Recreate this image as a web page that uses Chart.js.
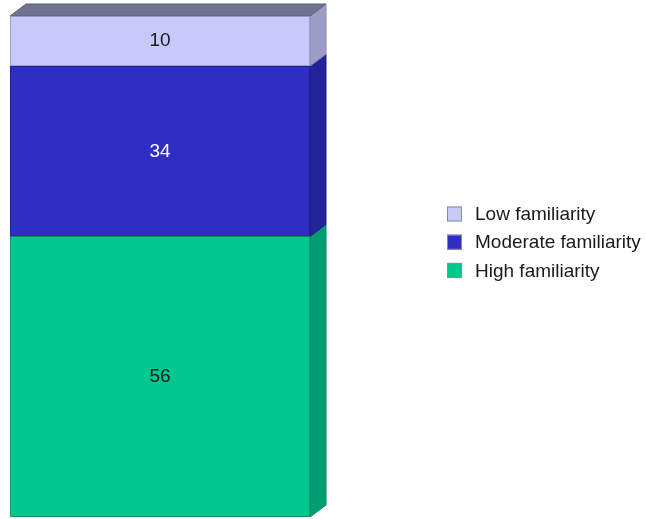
<!DOCTYPE html>
<html>
<head>
<meta charset="utf-8">
<script src="https://cdn.jsdelivr.net/npm/chart.js@4/dist/chart.umd.min.js"></script>
<style>
  html, body { margin: 0; padding: 0; background: #ffffff; }
  #wrap { width: 646px; height: 519px; }
</style>
</head>
<body>
<div id="wrap"><canvas id="chart" width="646" height="519"></canvas></div>
<script>
// Single stacked column: share of respondents by level of familiarity
const categories = ['Familiarity'];
const seriesNames = ['Low familiarity', 'Moderate familiarity', 'High familiarity'];
const seriesValues = [10, 34, 56];

// front / side face colours and label colours, same order as seriesNames
const frontColors = ['#c8c8fa', '#2e2ec4', '#00c88f'];
const sideColors  = ['#9c9cc6', '#23239a', '#009e70'];
const edgeColors  = ['#8a8ab0', '#1c1c86', '#008a62'];
const labelColors = ['#1a1a1a', '#ffffff', '#1a1a1a'];
const topColor = '#6e7490';

const DEPTH_X = 16, DEPTH_Y = 12;
const FONT = '"Liberation Sans", Arial, sans-serif';

// stacking starts from the bottom, so the series are added in reverse order
const datasets = seriesNames.map((name, i) => ({
  label: name,
  data: [seriesValues[i]],
  backgroundColor: frontColors[i],
  borderColor: edgeColors[i],
  borderWidth: 1,
  borderSkipped: false,
  barPercentage: 1,
  categoryPercentage: 1,
  sideColor: sideColors[i],
  labelColor: labelColors[i]
})).reverse();

// side and top faces that give the column its depth
const depthPlugin = {
  id: 'depth',
  beforeDatasetsDraw(chart) {
    const ctx = chart.ctx;
    let topMost = null;
    chart.data.datasets.forEach((ds, di) => {
      const bar = chart.getDatasetMeta(di).data[0];
      const left = bar.x - bar.width / 2, right = bar.x + bar.width / 2;
      const yTop = Math.min(bar.y, bar.base), yBot = Math.max(bar.y, bar.base);
      ctx.save();
      ctx.beginPath();
      ctx.moveTo(right, yTop);
      ctx.lineTo(right + DEPTH_X, yTop - DEPTH_Y);
      ctx.lineTo(right + DEPTH_X, yBot - DEPTH_Y);
      ctx.lineTo(right, yBot);
      ctx.closePath();
      ctx.fillStyle = ds.sideColor;
      ctx.fill();
      ctx.strokeStyle = ds.borderColor;
      ctx.lineWidth = 1;
      ctx.stroke();
      ctx.restore();
      if (!topMost || yTop < topMost.yTop) topMost = { left, right, yTop };
    });
    if (topMost) {
      const { left, right, yTop } = topMost;
      ctx.save();
      ctx.beginPath();
      ctx.moveTo(left, yTop);
      ctx.lineTo(left + DEPTH_X, yTop - DEPTH_Y);
      ctx.lineTo(right + DEPTH_X, yTop - DEPTH_Y);
      ctx.lineTo(right, yTop);
      ctx.closePath();
      ctx.fillStyle = topColor;
      ctx.fill();
      ctx.strokeStyle = '#5c6078';
      ctx.lineWidth = 1;
      ctx.stroke();
      ctx.restore();
    }
  }
};

// value printed in the middle of each segment
const valueLabels = {
  id: 'valueLabels',
  afterDatasetsDraw(chart) {
    const ctx = chart.ctx;
    ctx.save();
    ctx.font = '19px ' + FONT;
    ctx.textAlign = 'center';
    ctx.textBaseline = 'middle';
    chart.data.datasets.forEach((ds, di) => {
      const bar = chart.getDatasetMeta(di).data[0];
      ctx.fillStyle = ds.labelColor;
      ctx.fillText(String(ds.data[0]), bar.x, (bar.y + bar.base) / 2);
    });
    ctx.restore();
  }
};

// legend to the right of the column, top series first
const sideLegend = {
  id: 'sideLegend',
  afterDraw(chart) {
    const ctx = chart.ctx;
    const x0 = 447, y0 = 214, step = 28.2, box = 15;
    ctx.save();
    ctx.font = '19px ' + FONT;
    ctx.textBaseline = 'middle';
    ctx.textAlign = 'left';
    const items = chart.data.datasets.slice().reverse();
    items.forEach((ds, i) => {
      const cy = y0 + i * step;
      ctx.fillStyle = ds.backgroundColor;
      ctx.fillRect(x0, cy - box / 2, box, box);
      ctx.strokeStyle = '#8c8c8c';
      ctx.lineWidth = 1;
      ctx.strokeRect(x0 + 0.5, cy - box / 2 + 0.5, box - 1, box - 1);
      ctx.fillStyle = '#1a1a1a';
      ctx.fillText(ds.label, x0 + 28, cy + 1);
    });
    ctx.restore();
  }
};

new Chart(document.getElementById('chart'), {
  type: 'bar',
  data: { labels: categories, datasets },
  options: {
    responsive: false,
    animation: false,
    layout: { padding: { left: 10, top: 16, right: 336, bottom: 2 } },
    plugins: { legend: { display: false }, tooltip: { enabled: false } },
    scales: {
      x: { display: false, stacked: true },
      y: { display: false, stacked: true, min: 0, max: 100 }
    }
  },
  plugins: [depthPlugin, valueLabels, sideLegend]
});
</script>
</body>
</html>
